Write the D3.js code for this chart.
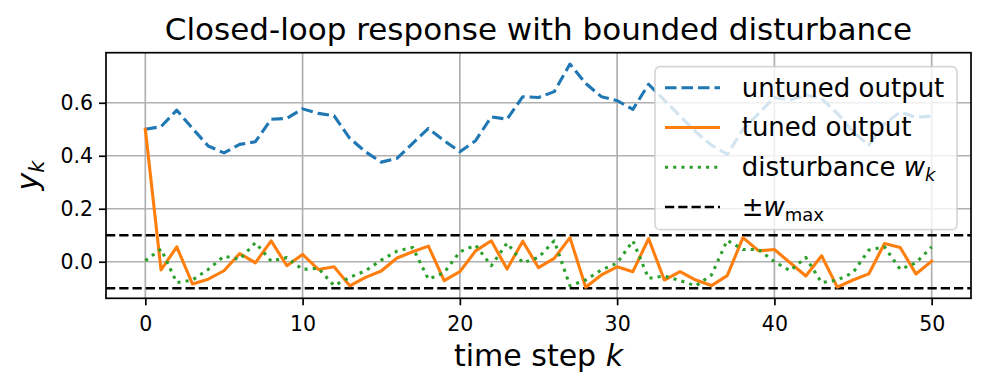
<!DOCTYPE html>
<html>
<head>
<meta charset="utf-8">
<script src="https://cdn.jsdelivr.net/npm/d3@7"></script>
<style>
  body { margin: 0; background: #fff; }
  svg text { font-family: "DejaVu Sans", sans-serif; fill: #000; }
</style>
</head>
<body>
<div id="chart"></div>
<script>
// time steps and series
var steps = d3.range(0, 51);
var untuned = [0.50, 0.51, 0.572, 0.503, 0.437, 0.411, 0.443, 0.453, 0.538, 0.541,
    0.577, 0.56, 0.551, 0.466, 0.415, 0.376, 0.39, 0.447, 0.503, 0.457,
    0.415, 0.457, 0.547, 0.538, 0.623, 0.62, 0.642, 0.746, 0.673, 0.623,
    0.608, 0.575, 0.67, 0.61, 0.55, 0.49, 0.44, 0.405, 0.50, 0.56,
    0.62, 0.61, 0.63, 0.615, 0.56, 0.49, 0.44, 0.52, 0.565, 0.545, 0.55];
var tuned = [0.5, -0.031, 0.056, -0.084, -0.066, -0.034, 0.031, -0.004, 0.079, -0.015,
    0.0275, -0.029, -0.019, -0.091, -0.059, -0.035, 0.014, 0.0375, 0.059, -0.071,
    -0.0375, 0.041, 0.079, -0.0275, 0.0775, -0.0225, 0.0125, 0.091, -0.096, -0.05,
    -0.019, -0.0375, 0.0875, -0.069, -0.0375, -0.069, -0.09, -0.0525, 0.091, 0.041,
    0.046, -0.004, -0.054, 0.0225, -0.096, -0.069, -0.046, 0.069, 0.054, -0.046, 0.0025];
var disturbance = [0.004, 0.048, -0.079, -0.069, -0.029, 0.021, 0.009, 0.072, 0.0025, 0.016,
    -0.029, -0.025, -0.09, -0.059, -0.034, 0.006, 0.04, 0.054, -0.066, -0.041,
    0.0375, 0.0625, -0.015, 0.071, -0.004, 0.016, 0.079, -0.091, -0.069, -0.031,
    -0.005, 0.079, -0.0625, -0.054, -0.071, -0.091, -0.05, 0.081, 0.046, 0.046,
    0.0, -0.034, 0.016, -0.079, -0.069, -0.041, 0.044, 0.056, -0.029, -0.004, 0.056];
var wMax = 0.1;
var xTicks = [0, 10, 20, 30, 40, 50];
var yTicks = [0.0, 0.2, 0.4, 0.6];

var svgWidth = 988;
var svgHeight = 392;
var margin = {top: 52.7, right: 17, bottom: 93.7, left: 106};
var width = svgWidth - margin.left - margin.right;
var height = svgHeight - margin.top - margin.bottom;

var svg = d3.select("#chart")
    .append("svg")
    .attr("width", svgWidth)
    .attr("height", svgHeight);

var chartGroup = svg.append("g")
    .attr("transform", `translate(${margin.left},${margin.top})`);

var xScale = d3.scaleLinear().domain([-2.5, 52.5]).range([0, width]);
var yScale = d3.scaleLinear().domain([-0.138, 0.789]).range([height, 0]);

// grid
chartGroup.append("g")
    .selectAll("line.gx")
    .data(xTicks)
    .enter().append("line")
    .attr("x1", d => xScale(d)).attr("x2", d => xScale(d))
    .attr("y1", 0).attr("y2", height)
    .attr("stroke", "#b0b0b0").attr("stroke-width", 1.7);
chartGroup.append("g")
    .selectAll("line.gy")
    .data(yTicks)
    .enter().append("line")
    .attr("x1", 0).attr("x2", width)
    .attr("y1", d => yScale(d)).attr("y2", d => yScale(d))
    .attr("stroke", "#b0b0b0").attr("stroke-width", 1.7);

// bounds
chartGroup.selectAll("line.bound")
    .data([wMax, -wMax])
    .enter().append("line")
    .attr("x1", 0).attr("x2", width)
    .attr("y1", d => yScale(d)).attr("y2", d => yScale(d))
    .attr("stroke", "#000").attr("stroke-width", 2.5)
    .attr("stroke-dasharray", "9.25,4");

var line = function(vals) {
    return d3.line()
        .x((d, i) => xScale(steps[i]))
        .y(d => yScale(d))(vals);
};

var series = [
    {name: "untuned", vals: untuned, color: "#1f77b4", dash: "11.5,5", cap: "butt"},
    {name: "tuned", vals: tuned, color: "#ff7f0e", dash: null, cap: "square"},
    {name: "dist", vals: disturbance, color: "#2ca02c", dash: "3.1,5.1", cap: "butt"}
];
// draw order: untuned, tuned, disturbance
series.forEach(function(s) {
    chartGroup.append("path")
        .attr("d", line(s.vals))
        .attr("fill", "none")
        .attr("stroke", s.color)
        .attr("stroke-width", 3.1)
        .attr("stroke-linejoin", "round")
        .attr("stroke-linecap", s.cap)
        .attr("stroke-dasharray", s.dash);
});

// axes
var bottomAxis = d3.axisBottom(xScale).tickValues(xTicks).tickSize(7).tickPadding(6).tickFormat(d3.format("d"));
var leftAxis = d3.axisLeft(yScale).tickValues(yTicks).tickSize(7).tickPadding(6).tickFormat(d3.format(".1f"));

var xAxis = chartGroup.append("g")
    .attr("transform", `translate(0,${height})`)
    .call(bottomAxis);
var yAxis = chartGroup.append("g").call(leftAxis);
[xAxis, yAxis].forEach(function(a) {
    a.select(".domain").remove();
    a.selectAll(".tick line").attr("stroke", "#000").attr("stroke-width", 1.7);
    a.selectAll(".tick text").style("font-size", "20.5px").attr("fill", "#000");
});
xAxis.selectAll(".tick text").attr("dy", "0.97em");

// frame
chartGroup.append("rect")
    .attr("width", width).attr("height", height)
    .attr("fill", "none").attr("stroke", "#000").attr("stroke-width", 1.7);

// title & labels
svg.append("text")
    .attr("x", margin.left + width / 2).attr("y", 40)
    .attr("text-anchor", "middle")
    .style("font-size", "31px")
    .text("Closed-loop response with bounded disturbance");

var xl = svg.append("text")
    .attr("x", margin.left + width / 2).attr("y", 366)
    .attr("text-anchor", "middle")
    .style("font-size", "30px");
xl.append("tspan").text("time step ");
xl.append("tspan").style("font-style", "italic").text("k");

var yl = svg.append("text")
    .attr("transform", `translate(38,${margin.top + height / 2}) rotate(-90)`)
    .attr("text-anchor", "middle")
    .style("font-size", "30px");
yl.append("tspan").style("font-style", "italic").text("y");
yl.append("tspan").style("font-style", "italic").style("font-size", "21px").attr("dy", 6).text("k");

// legend
var legend = svg.append("g").attr("transform", "translate(655,66.7)");
legend.append("rect")
    .attr("width", 302).attr("height", 163)
    .attr("rx", 5).attr("ry", 5)
    .attr("fill", "#fff").attr("fill-opacity", 0.8)
    .attr("stroke", "#cccccc").attr("stroke-opacity", 0.8).attr("stroke-width", 1.7);

var legendItems = [
    {color: "#1f77b4", dash: "11.5,5", w: 3.1},
    {color: "#ff7f0e", dash: null, w: 3.1},
    {color: "#2ca02c", dash: "3.1,5.1", w: 3.1},
    {color: "#000", dash: "9.25,4", w: 2.5}
];
legendItems.forEach(function(it, i) {
    var y = 21 + i * 39.8;
    legend.append("line")
        .attr("x1", 10).attr("x2", 65).attr("y1", y).attr("y2", y)
        .attr("stroke", it.color).attr("stroke-width", it.w)
        .attr("stroke-dasharray", it.dash);
});
var lt = function(i) {
    return legend.append("text")
        .attr("x", 86.7).attr("y", 21 + i * 39.8 + 9)
        .style("font-size", "26px");
};
lt(0).text("untuned output");
lt(1).text("tuned output");
var t2 = lt(2);
t2.append("tspan").text("disturbance ");
t2.append("tspan").style("font-style", "italic").text("w");
t2.append("tspan").style("font-style", "italic").style("font-size", "18px").attr("dy", 5).text("k");
var t3 = lt(3);
t3.append("tspan").text("\u00b1");
t3.append("tspan").style("font-style", "italic").text("w");
t3.append("tspan").style("font-size", "18px").attr("dy", 5).text("max");
</script>
</body>
</html>
